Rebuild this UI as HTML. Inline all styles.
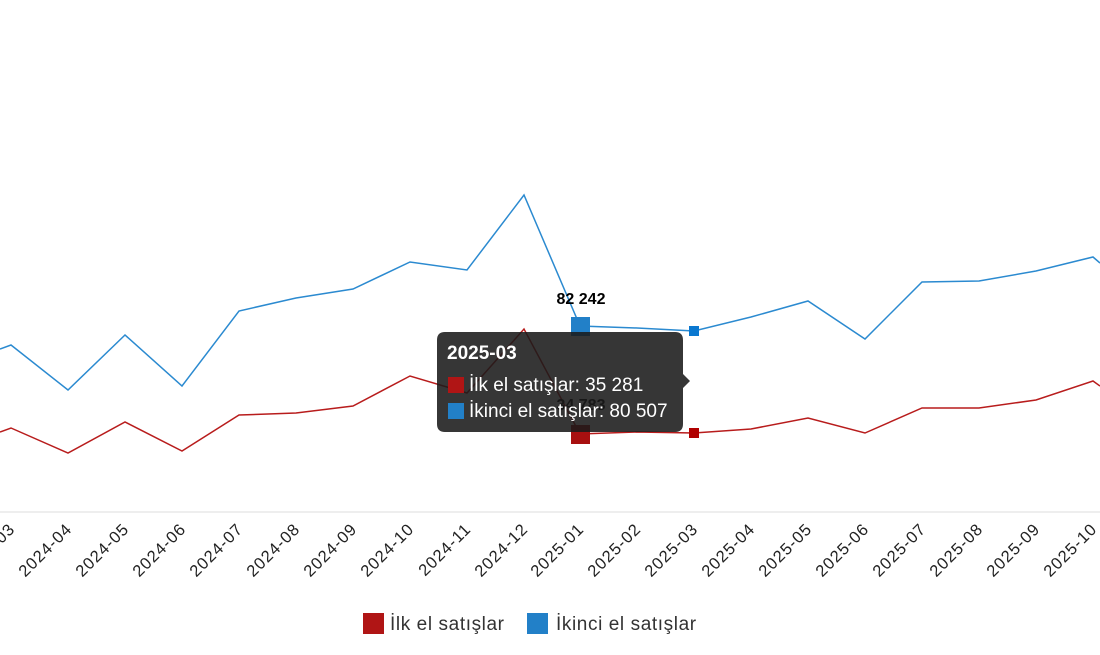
<!DOCTYPE html>
<html><head><meta charset="utf-8"><style>
body{margin:0;background:#fff;width:1100px;height:650px;overflow:hidden;font-family:"Liberation Sans",sans-serif}
</style></head><body>
<svg width="1100" height="650" xmlns="http://www.w3.org/2000/svg" font-family="Liberation Sans, sans-serif">
<line x1="0" y1="512" x2="1100" y2="512" stroke="#ddd" stroke-width="1"/>
<polyline fill="none" stroke="#2b8ad0" stroke-width="1.5" points="0,349 11,345 68,390 125,335 182,386 239,311 296,298 353,289 410,262 467,270 524,195 580,326 637,328 694,331 751,317 808,301 865,339 922,282 979,281 1036,271 1093,257 1100,263"/>
<polyline fill="none" stroke="#b81c1c" stroke-width="1.5" points="0,432 11,428 68,453 125,422 182,451 239,415 296,413 353,406 410,376 467,393 524,329 580,434 637,432 694,433 751,429 808,418 865,433 922,408 979,408 1036,400 1093,381 1100,386"/>
<rect x="571" y="317" width="19" height="19" fill="#2280c8"/>
<rect x="571" y="425" width="19" height="19" fill="#a81010"/>
<rect x="689" y="326" width="10" height="10" fill="#0a78d0"/>
<rect x="689" y="428" width="10" height="10" fill="#b00000"/>
<text x="581" y="304" text-anchor="middle" font-size="16" font-weight="bold">82 242</text>
<text x="581" y="410" text-anchor="middle" font-size="16" font-weight="bold">34 783</text>
<g font-size="16.5" fill="#222" letter-spacing="1">
<text transform="translate(16,530) rotate(-45)" text-anchor="end">2024-03</text>
<text transform="translate(73,530) rotate(-45)" text-anchor="end">2024-04</text>
<text transform="translate(130,530) rotate(-45)" text-anchor="end">2024-05</text>
<text transform="translate(187,530) rotate(-45)" text-anchor="end">2024-06</text>
<text transform="translate(244,530) rotate(-45)" text-anchor="end">2024-07</text>
<text transform="translate(301,530) rotate(-45)" text-anchor="end">2024-08</text>
<text transform="translate(358,530) rotate(-45)" text-anchor="end">2024-09</text>
<text transform="translate(415,530) rotate(-45)" text-anchor="end">2024-10</text>
<text transform="translate(472,530) rotate(-45)" text-anchor="end">2024-11</text>
<text transform="translate(529,530) rotate(-45)" text-anchor="end">2024-12</text>
<text transform="translate(585,530) rotate(-45)" text-anchor="end">2025-01</text>
<text transform="translate(642,530) rotate(-45)" text-anchor="end">2025-02</text>
<text transform="translate(699,530) rotate(-45)" text-anchor="end">2025-03</text>
<text transform="translate(756,530) rotate(-45)" text-anchor="end">2025-04</text>
<text transform="translate(813,530) rotate(-45)" text-anchor="end">2025-05</text>
<text transform="translate(870,530) rotate(-45)" text-anchor="end">2025-06</text>
<text transform="translate(927,530) rotate(-45)" text-anchor="end">2025-07</text>
<text transform="translate(984,530) rotate(-45)" text-anchor="end">2025-08</text>
<text transform="translate(1041,530) rotate(-45)" text-anchor="end">2025-09</text>
<text transform="translate(1098,530) rotate(-45)" text-anchor="end">2025-10</text>
</g>
<rect x="363" y="613" width="21" height="21" fill="#b01515"/>
<text x="390" y="630" font-size="19" fill="#333" letter-spacing="0.6">İlk el satışlar</text>
<rect x="527" y="613" width="21" height="21" fill="#2280c8"/>
<text x="556" y="630" font-size="19" fill="#333" letter-spacing="0.6">İkinci el satışlar</text>
<g>
<path d="M445,332 H675 Q683,332 683,340 V374 L690,381 L683,388 V424 Q683,432 675,432 H445 Q437,432 437,424 V340 Q437,332 445,332 Z" fill="#1a1a1a" fill-opacity="0.88"/>
<text x="447" y="359" font-size="19" font-weight="bold" fill="#fff">2025-03</text>
<rect x="448" y="377" width="16" height="16" fill="#b01515"/>
<text x="469" y="391" font-size="19" fill="#fff">İlk el satışlar: 35 281</text>
<rect x="448" y="403" width="16" height="16" fill="#2280c8"/>
<text x="469" y="417" font-size="19" fill="#fff">İkinci el satışlar: 80 507</text>
</g>
</svg>
</body></html>
